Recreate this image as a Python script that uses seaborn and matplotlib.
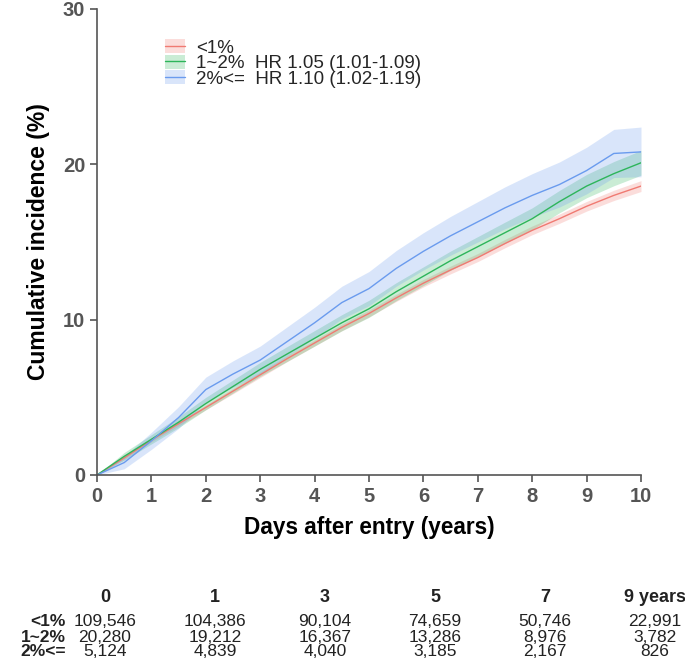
import seaborn as sns
import matplotlib.pyplot as plt
import pandas as pd
from matplotlib.patches import Patch
from matplotlib.lines import Line2D

# Cumulative incidence (%) every half year
years = [0, 0.5, 1, 1.5, 2, 2.5, 3, 3.5, 4, 4.5, 5, 5.5, 6, 6.5, 7, 7.5, 8, 8.5, 9, 9.5, 10]
inc_lt1 = [0, 1.1, 2.25, 3.3, 4.35, 5.4, 6.45, 7.5, 8.5, 9.5, 10.4, 11.4, 12.35, 13.2, 14.0, 14.9, 15.75, 16.5, 17.3, 18.0, 18.6]
inc_1to2 = [0, 1.2, 2.3, 3.4, 4.6, 5.7, 6.8, 7.8, 8.8, 9.8, 10.7, 11.8, 12.8, 13.8, 14.7, 15.6, 16.5, 17.6, 18.6, 19.4, 20.1]
inc_ge2 = [0, 0.8, 2.2, 3.7, 5.5, 6.5, 7.4, 8.6, 9.8, 11.1, 12.0, 13.3, 14.4, 15.4, 16.3, 17.2, 18.0, 18.7, 19.6, 20.7, 20.8]

# half width of the confidence bands
ci_lt1 = [0, 0.1, 0.12, 0.14, 0.15, 0.17, 0.18, 0.19, 0.2, 0.21, 0.22, 0.23, 0.24, 0.25, 0.26, 0.27, 0.28, 0.3, 0.31, 0.33, 0.35]
ci_1to2 = [0, 0.25, 0.3, 0.35, 0.4, 0.42, 0.45, 0.48, 0.5, 0.52, 0.55, 0.58, 0.6, 0.62, 0.65, 0.68, 0.7, 0.72, 0.75, 0.78, 0.8]
ci_ge2 = [0, 0.4, 0.55, 0.7, 0.8, 0.85, 0.9, 0.95, 1.0, 1.05, 1.1, 1.15, 1.2, 1.25, 1.3, 1.35, 1.4, 1.45, 1.5, 1.55, 1.6]

groups = ["<1%", "1~2%", "2%<="]
legend_labels = ["<1%", "1~2%  HR 1.05 (1.01-1.09)", "2%<=  HR 1.10 (1.02-1.19)"]
colors = ["#F07A72", "#2DB55A", "#6A9BEE"]

# numbers at risk
risk_cols = ["0", "1", "3", "5", "7", "9 years"]
risk_lt1 = [109546, 104386, 90104, 74659, 50746, 22991]
risk_1to2 = [20280, 19212, 16367, 13286, 8976, 3782]
risk_ge2 = [5124, 4839, 4040, 3185, 2167, 826]

sns.set_style("ticks")
plt.rcParams["font.family"] = ["Liberation Sans", "DejaVu Sans"]

W, H = 685, 665
fig = plt.figure(figsize=(W / 100, H / 100), dpi=100)
ax = fig.add_axes([97 / W, 1 - 475 / H, 544 / W, 466 / H])

curves = [inc_lt1, inc_1to2, inc_ge2]
bands = [ci_lt1, ci_1to2, ci_ge2]
df = pd.concat(
    [pd.DataFrame({"year": years, "inc": c, "group": g}) for c, g in zip(curves, groups)],
    ignore_index=True,
)

for c, b, col in zip(curves, bands, colors):
    lo = [v - h for v, h in zip(c, b)]
    hi = [v + h for v, h in zip(c, b)]
    ax.fill_between(years, lo, hi, color=col, alpha=0.25, linewidth=0)

sns.lineplot(data=df, x="year", y="inc", hue="group", palette=colors,
             estimator=None, linewidth=1.0, legend=False, ax=ax)

ax.set_xlim(0, 10)
ax.set_ylim(0, 30)
ax.set_xticks(range(0, 11))
ax.set_yticks([0, 10, 20, 30])
sns.despine(ax=ax)
for s in ["left", "bottom"]:
    ax.spines[s].set_color("#555555")
    ax.spines[s].set_linewidth(1.2)
ax.tick_params(axis="both", colors="#555555", length=5, width=1.2, labelsize=14.5)
for lab in ax.get_xticklabels() + ax.get_yticklabels():
    lab.set_fontweight("bold")
    lab.set_color("#555555")

ax.set_xlabel("Days after entry (years)", fontsize=16.3, fontweight="bold", labelpad=7, color="black")
ax.set_ylabel("Cumulative incidence (%)", fontsize=16.5, fontweight="bold", labelpad=9, color="black")

handles = [
    (Patch(facecolor=col, alpha=0.25, linewidth=0), Line2D([], [], color=col, linewidth=1.0))
    for col in colors
]
ax.legend(handles, legend_labels, loc="upper left", bbox_to_anchor=(0.107, 0.955),
          frameon=False, fontsize=13.5, handlelength=1.1, handleheight=0.78,
          labelspacing=-0.12, handletextpad=0.6, borderpad=0)

# risk table below the plot
def px(x, y):
    return x / W, 1 - y / H

col_x = [105, 215, 325, 435, 545, 655]
for x, lab in zip(col_x, risk_cols):
    fig.text(*px(x, 597), lab, ha="center", va="center", fontsize=13, fontweight="bold", color="#222222")

row_y = [622, 637, 652]
for y, g, counts in zip(row_y, groups, [risk_lt1, risk_1to2, risk_ge2]):
    fig.text(*px(66, y), g, ha="right", va="center", fontsize=12.5, fontweight="bold", color="#222222")
    for x, n in zip(col_x, counts):
        fig.text(*px(x, y), f"{n:,}", ha="center", va="center", fontsize=12.5, color="#222222")

fig.savefig("out.png", dpi=100)
plt.close(fig)
